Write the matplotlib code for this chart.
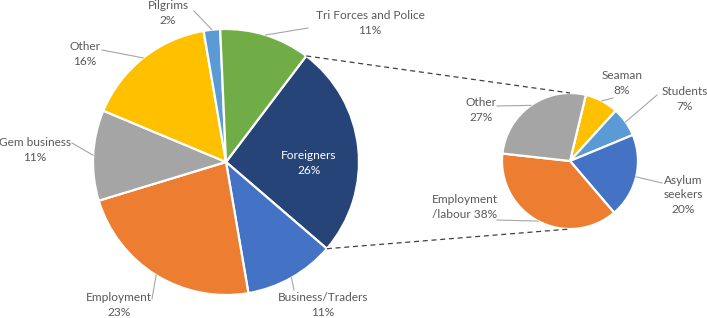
"""Pie-of-pie chart: purpose of travel, with breakdown of the Foreigners slice."""

import numpy as np
import matplotlib.pyplot as plt

# main pie, clockwise from the Foreigners slice
main_labels = ["Foreigners", "Business/Traders", "Employment", "Gem business",
               "Other", "Pilgrims", "Tri Forces and Police"]
main_values = [26, 11, 23, 11, 16, 2, 11]
main_colors = ["#264478", "#4472C4", "#ED7D31", "#A5A5A5", "#FFC000", "#5B9BD5", "#70AD47"]

# secondary pie (breakdown of Foreigners), clockwise from the top
sub_labels = ["Seaman", "Students", "Asylum\nseekers", "Employment\n/labour", "Other"]
sub_values = [8, 7, 20, 38, 27]
sub_colors = ["#FFC000", "#5B9BD5", "#4472C4", "#ED7D31", "#A5A5A5"]

W, H = 707, 318
TEXT = "#595959"
LEADER = "#A6A6A6"

plt.rcParams["font.family"] = ["Lato", "DejaVu Sans"]

fig = plt.figure(figsize=(W / 100, H / 100), dpi=100)
ax = fig.add_axes([0, 0, 1, 1])
ax.set_xlim(0, W)
ax.set_ylim(0, H)
ax.set_aspect("equal")
ax.axis("off")

main_c, main_r, main_start = (226, H - 162), 133, 52.9
sub_c, sub_r, sub_start = (570, H - 161), 68, 76.5

wedge_kw = dict(edgecolor="white", linewidth=1.6)
ax.pie(main_values, colors=main_colors, startangle=main_start, counterclock=False,
       center=main_c, radius=main_r, wedgeprops=wedge_kw, frame=True)
ax.pie(sub_values, colors=sub_colors, startangle=sub_start, counterclock=False,
       center=sub_c, radius=sub_r, wedgeprops=wedge_kw, frame=True)
ax.set_xlim(0, W)
ax.set_ylim(0, H)
ax.axis("off")


def edge_point(center, radius, angle):
    a = np.deg2rad(angle)
    return center[0] + radius * np.cos(a), center[1] + radius * np.sin(a)


def mid_angles(values, start):
    fr = np.array(values, dtype=float) / sum(values) * 360
    ends = start - np.cumsum(fr)
    return ends + fr / 2, ends


main_mid, main_ends = mid_angles(main_values, main_start)
sub_mid, sub_ends = mid_angles(sub_values, sub_start)

# dashed connectors from the Foreigners slice to the secondary pie
p_top = edge_point(main_c, main_r, main_start)
p_bot = edge_point(main_c, main_r, main_ends[0])
ax.plot([p_top[0], sub_c[0]], [p_top[1], sub_c[1] + sub_r], ls=(0, (4, 3)), color="#404040", lw=0.9)
ax.plot([p_bot[0], sub_c[0]], [p_bot[1], sub_c[1] - sub_r], ls=(0, (4, 3)), color="#404040", lw=0.9)

fs = 8.6
# label text positions (pixel, from top) and leader end points
main_pos = [None, (323, 305), (119, 305), (35, 150), (85, 54), (168, 13), (370, 23)]
main_lead = [None, (294, 290), (152, 299), (72, 143), (102, 50), (194, 11), (308, 28)]
for i, (lab, val) in enumerate(zip(main_labels, main_values)):
    if i == 0:
        ax.text(309, H - 163, f"{lab}\n{val}%", color="white", fontsize=fs,
                ha="center", va="center", linespacing=1.35)
        continue
    sx, sy = edge_point(main_c, main_r, main_mid[i])
    ex, ey = main_lead[i]
    ax.plot([sx, ex], [sy, H - ey], color=LEADER, lw=0.8)
    tx, ty = main_pos[i]
    ax.text(tx, H - ty, f"{lab}\n{val}%", color=TEXT, fontsize=fs,
            ha="center", va="center", linespacing=1.35)

sub_pos = [(622, 83), (685, 99), (683, 195), (465, 207), (481, 110)]
sub_lead = [(613, 98), (657, 95), (662, 183), (497, 220), (497, 106)]
for i, (lab, val) in enumerate(zip(sub_labels, sub_values)):
    sx, sy = edge_point(sub_c, sub_r, sub_mid[i])
    ex, ey = sub_lead[i]
    ax.plot([sx, ex], [sy, H - ey], color=LEADER, lw=0.8)
    txt = f"{lab} {val}%" if lab.startswith("Employment") else f"{lab}\n{val}%"
    tx, ty = sub_pos[i]
    ax.text(tx, H - ty, txt, color=TEXT, fontsize=fs,
            ha="center", va="center", linespacing=1.35)

fig.savefig("out.png", dpi=100)
